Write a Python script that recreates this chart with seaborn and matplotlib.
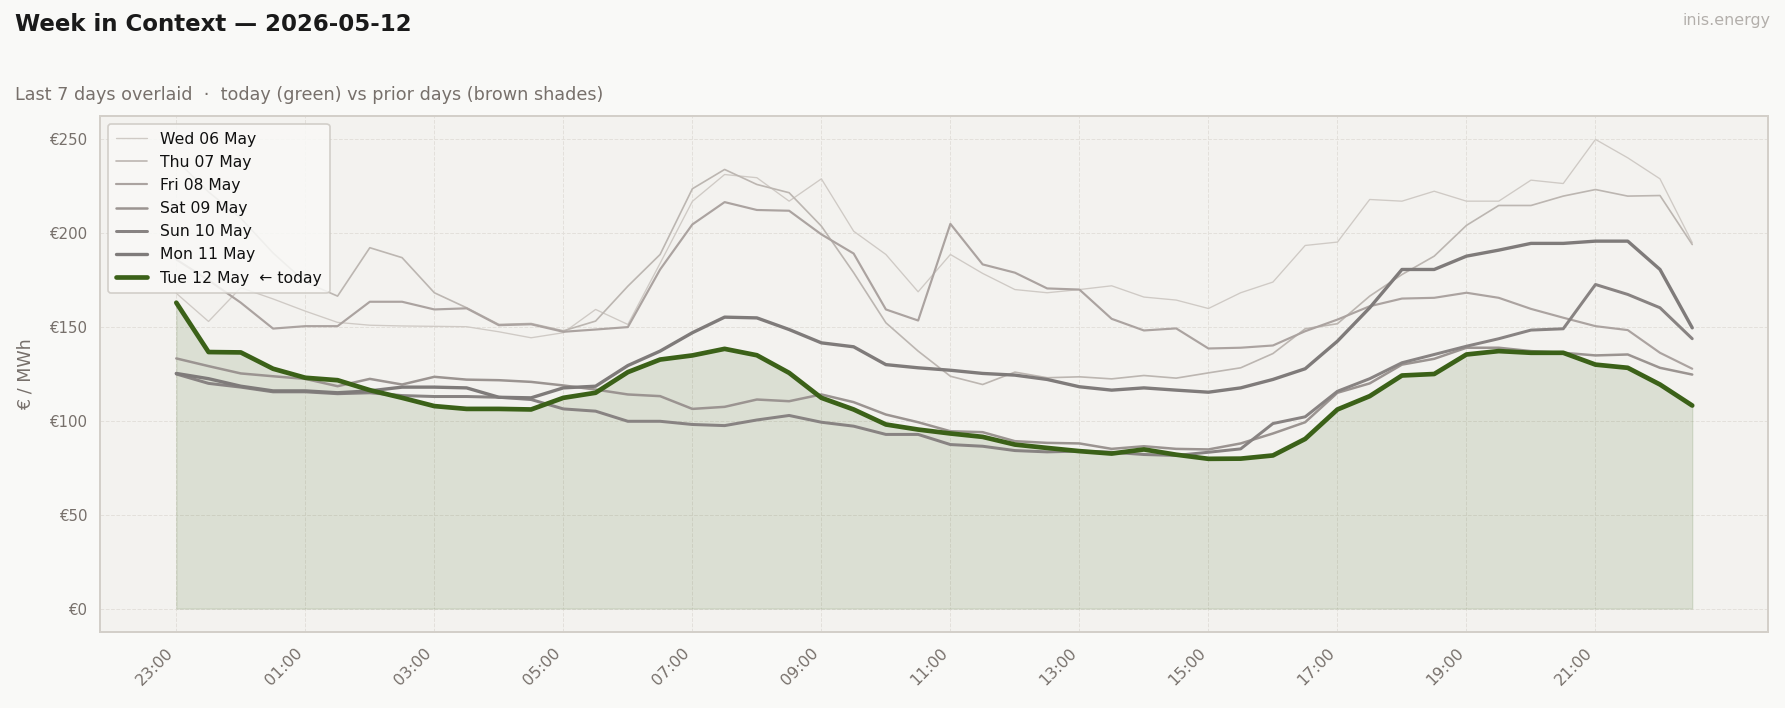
import numpy as np
import pandas as pd
import matplotlib
matplotlib.use("Agg")
import matplotlib.pyplot as plt
import seaborn as sns

# ---------------- data ----------------
day_labels = ["Wed 06 May", "Thu 07 May", "Fri 08 May", "Sat 09 May",
              "Sun 10 May", "Mon 11 May", "Tue 12 May  \u2190 today"]

wed = [168, 153, 171, 165, 158.5, 152.5, 151, 150.6, 150.4, 150.2, 147.5, 144.3,
       147, 159.4, 151.4, 184, 217, 231.3, 229.6, 217.1, 229, 201.1, 188.7, 168.8,
       188.7, 178.6, 170, 168.3, 170, 172, 166, 164.4, 159.9, 168.3, 174, 193.5,
       195.3, 218, 217.1, 222.4, 217.1, 217.1, 228.3, 226.5, 250, 240.2, 229, 195]
thu = [239, 222, 208, 189.5, 174, 166.5, 192.3, 187, 168.3, 160.3, 151.4, 151.9,
       148, 153.2, 171.8, 188.7, 223.7, 234, 226, 221.6, 203.8, 179, 152.3, 137.2,
       123.8, 119.4, 126, 123, 123.5, 122.4, 124.2, 122.8, 125.6, 128.3, 135.9, 149.1,
       151.8, 166.5, 178, 187.8, 204.2, 214.8, 214.8, 219.8, 223.3, 219.8, 220.1, 194]
fri = [186, 175, 163, 149.2, 150.5, 150.5, 163.5, 163.5, 159.4, 160, 151, 151.5,
       147.5, 148.7, 150, 180.7, 204.7, 216.6, 212.4, 212, 199.4, 189.2, 159.4, 153.5,
       205, 183.4, 179, 170.6, 170, 154.4, 148.2, 149.3, 138.6, 139, 140.2, 147.8,
       154, 161.1, 165.2, 165.6, 168.3, 165.6, 159.7, 155, 150.5, 148.4, 136.3, 127.8]
sat = [133.3, 129.2, 125.3, 123.8, 122.4, 118.5, 122.4, 119.4, 123.5, 122, 121.7, 120.8,
       118.9, 116.7, 114.1, 113.2, 106.4, 107.5, 111.4, 110.5, 114.1, 110, 103.4, 99.3,
       94.5, 94, 89.2, 88.3, 88, 85.1, 86.5, 85.1, 84.8, 88, 93.3, 99.3,
       115, 120, 130, 133.1, 139, 139, 137.2, 136.3, 134.9, 135.4, 128.3, 124.7]
sun = [125, 120, 118, 115.5, 115.5, 114.5, 115, 113.5, 113, 113, 112.6, 111.4,
       106.4, 105.2, 99.8, 99.8, 98.1, 97.5, 100.5, 102.9, 99.3, 97.2, 92.8, 92.8,
       87.4, 86.5, 84.2, 83.5, 83.9, 83.3, 82.1, 81.6, 83.3, 85.1, 98.6, 102.2,
       115.8, 122.5, 131, 135.4, 139.8, 143.8, 148.4, 149.1, 172.7, 167.4, 160.3, 143.8]
mon = [125.3, 122.5, 118.5, 116, 116, 115, 116, 118, 118, 117.6, 112.6, 112.3,
       117.6, 118.5, 129.5, 137.2, 147, 155.3, 154.9, 148.7, 141.6, 139.5, 130, 128.3,
       127, 125.3, 124.4, 122.1, 118.2, 116.4, 117.6, 116.4, 115.3, 117.6, 122.1, 127.8,
       142.5, 160.3, 180.7, 180.7, 187.8, 191, 194.6, 194.6, 195.8, 195.8, 180.7, 149.6]
tue = [163, 136.7, 136.5, 127.8, 123, 121.7, 116.4, 112.3, 107.9, 106.4, 106.4, 106.1,
       112.3, 115, 126, 132.7, 134.9, 138.4, 135, 125.6, 112.3, 106.1, 98.1, 95.4,
       93.3, 91.5, 87.4, 85.6, 83.9, 82.6, 84.8, 82, 79.8, 79.9, 81.6, 90.4,
       106.1, 113.2, 124.2, 125, 135.4, 137.2, 136.3, 136.3, 130, 128.3, 119.4, 108.2]

tick_labels = ["23:00", "01:00", "03:00", "05:00", "07:00", "09:00",
               "11:00", "13:00", "15:00", "17:00", "19:00", "21:00"]

series = [wed, thu, fri, sat, sun, mon, tue]

# ---------------- style ----------------
colors = ["#cfcac5", "#bcb6b1", "#aba3a0", "#9b9491", "#888382", "#7f7b7a", "#3b6118"]
widths = [0.8, 1.0, 1.3, 1.5, 1.8, 2.0, 2.8]

sns.set_theme(style="white")
plt.rcParams["font.family"] = ["DejaVu Sans"]

BG = "#f9f9f7"
AX_BG = "#f3f2ef"
TXT = "#77706b"

fig = plt.figure(figsize=(14.875, 5.9), dpi=120, facecolor=BG)
ax = fig.add_axes([0.0563, 0.1073, 0.9342, 0.7289])
ax.set_facecolor(AX_BG)

x = np.arange(len(tue))
for vals, lab, c, lw in zip(series, day_labels, colors, widths):
    sns.lineplot(x=x, y=vals, ax=ax, color=c, linewidth=lw, label=lab,
                 zorder=3 if c == colors[-1] else 2)

ax.fill_between(x, 0, tue, color=colors[-1], alpha=0.13, linewidth=0.8, zorder=1)

ax.set_xticks(x[::4])
ax.set_xticklabels(tick_labels, rotation=45, ha="right", color=TXT, fontsize=9.5)
ax.set_yticks([0, 50, 100, 150, 200, 250])
ax.set_yticklabels([f"\u20ac{v}" for v in [0, 50, 100, 150, 200, 250]],
                   color=TXT, fontsize=9)
ax.tick_params(axis="both", length=4, width=1, color="#8a8480", pad=4)
ax.set_xlim(-2.35, 49.35)
ax.set_ylim(-12.5, 262.5)
ax.set_xlabel("")
ax.set_ylabel("\u20ac / MWh", color=TXT, fontsize=10.5, labelpad=9)

ax.grid(True, linestyle="--", linewidth=0.6, color="#e3e0db", zorder=0)
for s in ax.spines.values():
    s.set_color("#d3cfc9")
    s.set_linewidth(1.2)
    s.set_visible(True)

leg = ax.legend(loc="upper left", fontsize=9.4, frameon=True, framealpha=0.85,
                facecolor=BG, edgecolor="#ccc8c2", handlelength=2.0,
                borderpad=0.5, labelspacing=0.52)
for t in leg.get_texts():
    t.set_color("#111111")

fig.text(0.0083, 0.965, "Week in Context \u2014 2026-05-12", fontsize=13.7,
         fontweight="bold", color="#1a1a1a", ha="left", va="center")
fig.text(0.0083, 0.8665,
         "Last 7 days overlaid  \u00b7  today (green) vs prior days (brown shades)",
         fontsize=10.6, color=TXT, ha="left", va="center")
fig.text(0.9916, 0.971, "inis.energy", fontsize=9.5, color="#b3afab",
         ha="right", va="center")

fig.savefig("out.png", dpi=120, facecolor=BG)
